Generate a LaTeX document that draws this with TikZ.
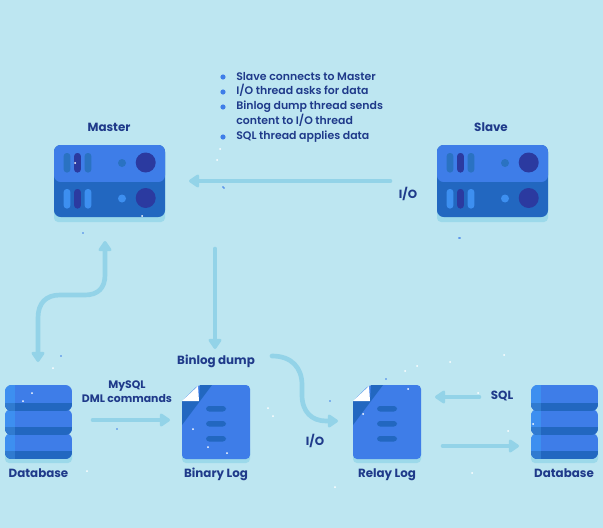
\documentclass[tikz,border=0pt]{standalone}
\usepackage{fontspec}
\setmainfont{Poppins}[BoldFont={Poppins}, BoldFeatures={FakeBold=0}]
\newfontfamily\lblfont{Poppins Bold}
\newfontfamily\bltfont{Poppins SemiBold}
\usetikzlibrary{arrows.meta,calc}
\definecolor{bgc}{HTML}{BDE6F1}
\definecolor{shc}{HTML}{9CD9EA}
\definecolor{arr}{HTML}{93D3E8}
\definecolor{ink}{HTML}{1F3A8A}
\definecolor{mainb}{HTML}{3E7DE8}
\definecolor{darkb}{HTML}{2267C0}
\definecolor{lightb}{HTML}{3D8FF0}
\definecolor{deep}{HTML}{2B3AA0}
\definecolor{midb}{HTML}{2A72C2}
\tikzset{
  x=0.75pt,y=-0.75pt,
  box/.style={inner sep=0pt,outer sep=0pt,minimum width=#1},
  lblm/.style={text=ink,font=\lblfont\fontsize{8.15}{10.4}\selectfont,inner sep=0pt,align=center},
  lbl/.style={text=ink,font=\lblfont\fontsize{8.9}{11}\selectfont,inner sep=0pt,text height=7pt,text depth=2pt},
  blt/.style={text=ink,font=\bltfont\fontsize{8.2}{11}\selectfont,inner sep=0pt,anchor=west,text height=7pt,text depth=2pt},
  flow/.style={draw=arr,line width=3.5pt,line cap=round,-{Triangle[length=8.5pt,width=11pt,round]}},
  flowb/.style={draw=arr,line width=3.5pt,line cap=round,{Triangle[length=8.5pt,width=11pt,round]}-{Triangle[length=8.5pt,width=11pt,round]}}
}
% server: left x, top y
\newcommand{\srv}[3]{%
 \begin{scope}[shift={(#1,#2)}]
  \fill[shc,rounded corners=3pt] (0,5) rectangle (111,77);
  \fill[darkb,rounded corners=5pt] (0,0) rectangle (111,72);
  \fill[mainb,rounded corners=5pt] (0,0) -- (111,0) -- (111,37) -- (0,37) -- cycle;
  \fill[darkb] (0,37) rectangle (111,45);
  \foreach \xx/\cc in {9.7/midb,20.2/deep,30.7/midb}
    \fill[\cc,rounded corners=2.2pt] (\xx,8) rectangle ++(6.6,19.5);
  \foreach \xx/\cc in {9.7/lightb,20.2/deep,30.7/lightb}
    \fill[\cc,rounded corners=2.2pt] (\xx,44) rectangle ++(6.6,19.5);
  \fill[midb] (68,18) circle (4);
  \fill[lightb] (68,53.5) circle (4);
  \fill[deep] (91.7,17.5) circle (10);
  \fill[deep] (91.7,53) circle (10);
  \node[box=111,minimum height=72,anchor=north west] (#3) at (0,0) {};
 \end{scope}}
% database
\newcommand{\dbase}[3]{%
 \begin{scope}[shift={(#1,#2)}]
  \fill[shc,rounded corners=3pt] (0,60) rectangle (67,78);
  \foreach \yy in {48,24,0}{
   \begin{scope}
    \clip[rounded corners=5pt] (0,\yy) rectangle (67,\yy+26);
    \fill[mainb] (0,\yy) rectangle (67,\yy+26);
    \fill[lightb] (0,\yy) rectangle (10,\yy+26);
    \fill[darkb] (0,\yy+18) rectangle (67,\yy+26);
    \fill[midb!70!lightb] (0,\yy+18) rectangle (10,\yy+26);
   \end{scope}}
  \node[box=67,minimum height=74,anchor=north west] (#3) at (0,0) {};
 \end{scope}}
% document
\newcommand{\docu}[3]{%
 \begin{scope}[shift={(#1,#2)}]
  \fill[shc,rounded corners=3pt] (0,60) rectangle (68,78);
  \fill[mainb,rounded corners=3pt] (0,16) -- (16,0) -- (68,0) -- (68,74) -- (0,74) -- cycle;
  \fill[darkb] (18,0) -- (30,0) -- (0,40) -- (0,16) -- (17,16) -- cycle;
  \fill[white] (0,16) -- (16,1) -- (17,16) -- cycle;
  \foreach \yy in {21,36,51}
    \fill[darkb,rounded corners=2.3pt] (24,\yy) rectangle ++(20,5.5);
  \node[box=68,minimum height=74,anchor=north west] (#3) at (0,0) {};
 \end{scope}}
\begin{document}
\begin{tikzpicture}
\useasboundingbox (0,0) rectangle (603,528);
\fill[bgc] (0,0) rectangle (603,528);
% shapes
\srv{54}{145}{master}
\srv{437}{145}{slave}
\dbase{5}{385}{dbl}
\dbase{531}{385}{dbr}
\docu{182}{385}{binlog}
\docu{353}{385}{relay}
% specks
\foreach \px/\py in {75/163,142/216,220/149,217/160,23/401,32/393,53/368,87/471,208/447,227/453,193/429,268/408,273/416,408/389,472/473,335/487,405/371,417/366,363/414,478/393,450/362,504/355,508/431,533/424}
  \fill[white] (\px,\py) circle (1);
\foreach \px/\py in {330/401,386/379,117/429,61/356,223/187,83/233,460/238,224/188,459/238}
  \fill[mainb] (\px,\py) circle (0.8);
% bullets
\foreach \yy in {77,92,107,137} \fill[mainb] (223,\yy) circle (2.6);
\node[blt] (b1) at (236,77) {Slave connects to Master};
\node[blt] (b2) at (236,91.5) {I/O thread asks for data};
\node[blt] (b3) at (236,106) {Binlog dump thread sends};
\node[blt] (b3b) at (236,121) {content to I/O thread};
\node[blt] (b4) at (236,136) {SQL thread applies data};
% labels
\node[lbl] (tm) at (109,128) {Master};
\node[lbl] (ts) at (491,128) {Slave};
\node[lbl] (tio) at (408,195.5) {I/O};
\node[lbl] (tbd) at (216,361.5) {Binlog dump};
\node[lblm] (tdml) at (127,392) {MySQL\\DML commands};
\node[lbl] (tdb1) at (38.5,474.5) {Database};
\node[lbl] (tbl) at (216,474.5) {Binary Log};
\node[lbl] (trl) at (387,474.5) {Relay Log};
\node[lbl] (tdb2) at (564,474.5) {Database};
\node[lbl] (tio2) at (315,442) {I/O};
\node[lbl] (tsql) at (502,396.5) {SQL};
% connector ends
\coordinate (a1) at (390,181);
\coordinate (a2) at (189,181);
\coordinate (b1s) at (215,249);
\coordinate (b2e) at (215,349);
\coordinate (c1) at (38,362);
\coordinate (c2) at (105,241);
\coordinate (d1) at (272,356);
\coordinate (d2) at (338,421);
\coordinate (e1) at (93,420);
\coordinate (e2) at (170,420);
\coordinate (f1) at (479,397);
\coordinate (f2) at (435,397);
\coordinate (g1) at (443,446);
\coordinate (g2) at (519,446);
\draw[flow] (a1) -- (a2);
\draw[flow] (b1s) -- (b2e);
\draw[flowb] (c1) -- (38,318) .. controls (38,303) and (46,295) .. (60,295) -- (85,295) .. controls (98,295) and (105,288) .. (105,275) -- (c2);
\draw[flow] (d1) .. controls (292,356) and (302,368) .. (302,385) -- (302,395) .. controls (302,412) and (312,421) .. (326,421) -- (d2);
\draw[flow] (e1) -- (e2);
\draw[flow] (f1) -- (f2);
\draw[flow] (g1) -- (g2);
\end{tikzpicture}
\end{document}
